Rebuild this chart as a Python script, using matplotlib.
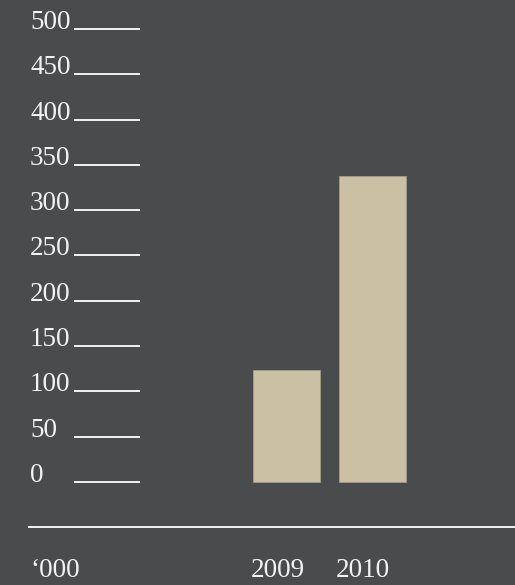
import matplotlib
matplotlib.use("Agg")
import matplotlib.pyplot as plt
import matplotlib.transforms as mtransforms

categories = ["2009", "2010"]
values = [124, 338]
yticks = [0, 50, 100, 150, 200, 250, 300, 350, 400, 450, 500]
tick_labels = [str(t) for t in yticks]
unit_label = "\u2018000"

BG = "#4a4b4d"
BAR = "#cbbfa4"
FG = "#f2f2f2"

plt.rcParams["font.family"] = ["Liberation Serif", "DejaVu Serif"]

fig = plt.figure(figsize=(5.15, 5.85), dpi=100, facecolor=BG)
ax = fig.add_axes([0, 0, 1, 1])
ax.set_facecolor(BG)
ax.set_axis_off()

x = list(range(len(categories)))
ax.bar(x, values, width=0.78, color=BAR, edgecolor="#a8a18e", linewidth=0.5, zorder=2)
ax.set_xlim(-3.343, 2.666)
ax.set_ylim(-113.7, 532)

trans = mtransforms.blended_transform_factory(ax.transAxes, ax.transData)
for t, lab in zip(yticks, tick_labels):
    ax.text(0.0583, t, lab, transform=trans, ha="left", va="baseline",
            fontsize=19.5, color=FG)
    ax.plot([0.1437, 0.2718], [t, t], transform=trans, color=FG, lw=1.4,
            solid_capstyle="butt")

ax.plot([0.0544, 1.0], [-50, -50], transform=trans, color=FG, lw=1.4,
        solid_capstyle="butt")

ax.text(0.0583, -105, unit_label, transform=trans, ha="left", va="baseline",
        fontsize=19.5, color=FG)
for xi, c in zip(x, categories):
    ax.text(xi - 0.42, -105, c, ha="left", va="baseline", fontsize=19.5, color=FG)

fig.savefig("out.png", dpi=100, facecolor=BG)
